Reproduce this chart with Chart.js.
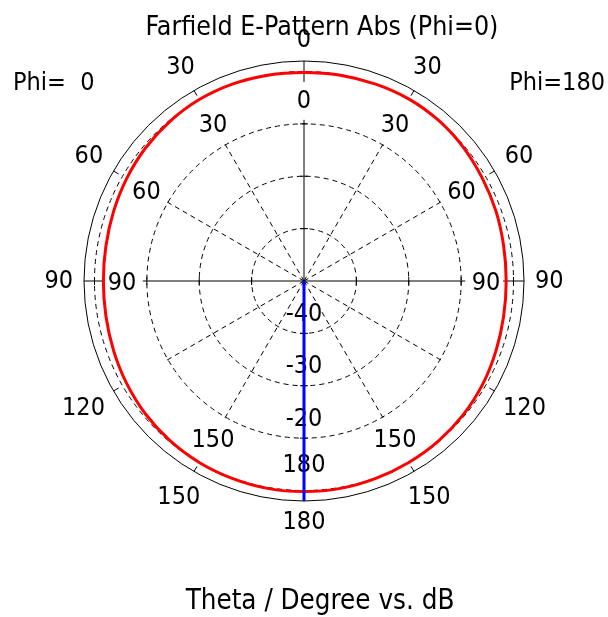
<!DOCTYPE html>
<html>
<head>
<meta charset="utf-8">
<script src="https://cdn.jsdelivr.net/npm/chart.js@4.4.1/dist/chart.umd.min.js"></script>
<style>
  html, body { margin: 0; padding: 0; background: #fff; }
</style>
</head>
<body>
<canvas id="chart" width="608" height="617"></canvas>
<script>
// 角度 (上から時計回り, 度) 右半分 = Phi=180, 左半分 = Phi=0
const angles = [0, 10, 20, 30, 40, 50, 60, 70, 80, 90, 100, 110, 120, 130, 140, 150, 160, 170,
  180, 190, 200, 210, 220, 230, 240, 250, 260, 270, 280, 290, 300, 310, 320, 330, 340, 350];

// 放射パターン (dB)
const gainDb = [-10.2, -10.1, -10.0, -9.9, -10.0, -10.3, -10.7, -11.0, -11.3, -11.4, -11.3, -11.0,
  -10.6, -10.3, -10.1, -10.0, -9.9, -9.8, -9.8, -9.8, -9.9, -10.0, -10.2, -10.5, -10.9, -11.3,
  -11.6, -11.7, -11.6, -11.3, -10.9, -10.5, -10.2, -10.0, -10.0, -10.1];

// 主ローブ方向 (度)
const mainLobeAngle = 180;

// 目盛り
const scaleMin = -50;
const scaleMax = -8;
const ringValues = [-40, -30, -20, -10];
const dbTickValues = [-40, -30, -20];
const dbTickLabels = ['-40', '-30', '-20'];
const spokeAngles = [0, 30, 60, 90, 120, 150, 180, 210, 240, 270, 300, 330];
const thetaOuterLabels = ['0', '30', '60', '90', '120', '150', '180', '150', '120', '90', '60', '30'];
const thetaInnerLabels = ['0', '30', '60', '90', '', '150', '180', '150', '', '90', '60', '30'];

const titleText = 'Farfield E-Pattern Abs (Phi=0)';
const axisText = 'Theta / Degree vs. dB';
const leftText = 'Phi=  0';
const rightText = 'Phi=180';

const FAMILY = '"DejaVu Sans Condensed", "DejaVu Sans", sans-serif';

// 角度からインデックス
function idxOf(a) {
  return angles.indexOf(a % 360);
}

// グリッド・ラベル描画
const polarDecor = {
  id: 'polarDecor',
  beforeDatasetsDraw(chart) {
    const ctx = chart.ctx;
    const s = chart.scales.r;
    const cx = s.xCenter;
    const cy = s.yCenter;
    const rOuter = s.drawingArea;
    const rInner = s.getDistanceFromCenterForValue(-20) + 4;
    const rSeg = s.getDistanceFromCenterForValue(-12);

    ctx.save();
    ctx.strokeStyle = '#000';
    ctx.lineWidth = 1;

    // 外周円
    ctx.beginPath();
    ctx.arc(cx, cy, rOuter, 0, Math.PI * 2);
    ctx.stroke();

    // 放射線
    spokeAngles.forEach(a => {
      const i = idxOf(a);
      const p = s.getPointPosition(i, rInner);
      if (a % 90 === 0) {
        ctx.setLineDash([]);
        ctx.beginPath();
        ctx.moveTo(cx, cy);
        ctx.lineTo(p.x, p.y);
        ctx.stroke();
        // 外側の軸線
        const q1 = s.getPointPosition(i, rSeg);
        const q2 = s.getPointPosition(i, rOuter);
        ctx.beginPath();
        ctx.moveTo(q1.x, q1.y);
        ctx.lineTo(q2.x, q2.y);
        ctx.stroke();
        // 目盛り
        ringValues.forEach(v => {
          const d = s.getDistanceFromCenterForValue(v);
          const t1 = s.getPointPosition(i, Math.hypot(d, 4), Math.atan2(4, d));
          const t2 = s.getPointPosition(i, Math.hypot(d, 4), -Math.atan2(4, d));
          ctx.beginPath();
          ctx.moveTo(t1.x, t1.y);
          ctx.lineTo(t2.x, t2.y);
          ctx.stroke();
        });
      } else {
        ctx.setLineDash([5, 4]);
        ctx.beginPath();
        ctx.moveTo(cx, cy);
        ctx.lineTo(p.x, p.y);
        ctx.stroke();
        ctx.setLineDash([]);
        const q1 = s.getPointPosition(i, rOuter - 6);
        const q2 = s.getPointPosition(i, rOuter);
        ctx.beginPath();
        ctx.moveTo(q1.x, q1.y);
        ctx.lineTo(q2.x, q2.y);
        ctx.stroke();
      }
    });
    ctx.setLineDash([]);

    // テキスト
    ctx.fillStyle = '#000';
    ctx.font = '25px ' + FAMILY;
    ctx.textAlign = 'center';
    ctx.textBaseline = 'middle';

    spokeAngles.forEach((a, k) => {
      const i = idxOf(a);
      const rad = a * Math.PI / 180;
      // 外側ラベル: 文字の大きさ分だけ外へ
      const halfW = ctx.measureText(thetaOuterLabels[k]).width / 2;
      const dist = rOuter + 11 + halfW * Math.abs(Math.sin(rad)) + 10 * Math.abs(Math.cos(rad));
      const po = s.getPointPosition(i, dist);
      ctx.fillText(thetaOuterLabels[k], po.x, po.y);
      if (thetaInnerLabels[k]) {
        const pi = s.getPointPosition(i, rOuter - 38);
        ctx.fillText(thetaInnerLabels[k], pi.x, pi.y + 2);
      }
    });

    dbTickValues.forEach((v, k) => {
      const d = s.getDistanceFromCenterForValue(v);
      const p = s.getPointPosition(idxOf(180), d - 19);
      ctx.fillText(dbTickLabels[k], p.x, p.y);
    });

    ctx.textAlign = 'left';
    ctx.fillText(leftText, 13, 83);
    ctx.textAlign = 'right';
    ctx.fillText(rightText, 605, 83);

    ctx.textAlign = 'center';
    ctx.font = '26.5px ' + FAMILY;
    ctx.fillText(titleText, 322, 28);
    ctx.font = '27.5px ' + FAMILY;
    ctx.fillText(axisText, 320, 602);
    ctx.restore();
  },
  afterDatasetsDraw(chart) {
    // 主ローブ方向の線
    const ctx = chart.ctx;
    const s = chart.scales.r;
    const p = s.getPointPositionForValue(idxOf(mainLobeAngle), scaleMax);
    ctx.save();
    ctx.strokeStyle = '#0000ff';
    ctx.lineWidth = 3;
    ctx.beginPath();
    ctx.moveTo(s.xCenter, s.yCenter);
    ctx.lineTo(p.x, p.y);
    ctx.stroke();
    ctx.restore();
  }
};

const chart = new Chart(document.getElementById('chart').getContext('2d'), {
  type: 'radar',
  data: {
    labels: angles.map(String),
    datasets: [{
      label: 'Farfield',
      data: gainDb,
      borderColor: '#ff0000',
      borderWidth: 3,
      pointRadius: 0,
      fill: false,
      tension: 0.35
    }]
  },
  options: {
    responsive: false,
    animation: false,
    layout: {
      padding: { left: 84, right: 84, top: 61, bottom: 116 }
    },
    plugins: {
      legend: { display: false },
      title: { display: false },
      tooltip: { enabled: false }
    },
    scales: {
      r: {
        min: scaleMin,
        max: scaleMax,
        startAngle: 0,
        afterBuildTicks: scale => {
          scale.ticks = ringValues.map(v => ({ value: v }));
        },
        ticks: { display: false },
        grid: { circular: true, color: '#000', lineWidth: 1 },
        border: { dash: [5, 4] },
        angleLines: { display: false },
        pointLabels: { display: false }
      }
    }
  },
  plugins: [polarDecor]
});
</script>
</body>
</html>
